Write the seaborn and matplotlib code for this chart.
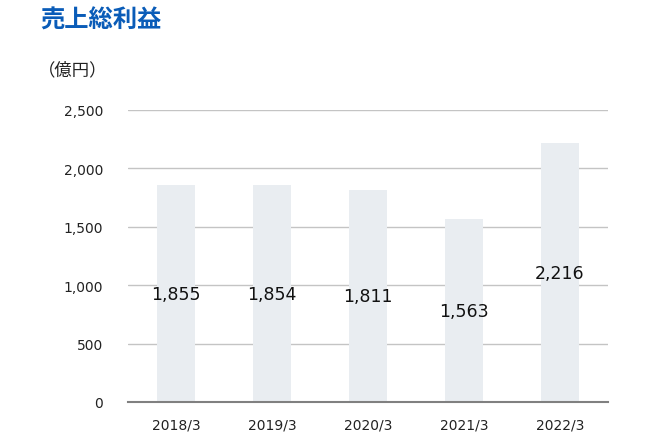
import matplotlib
matplotlib.use('Agg')
import matplotlib.pyplot as plt
import seaborn as sns
import pandas as pd

sns.set_style('white')
plt.rcParams['font.family'] = ['DejaVu Sans', 'Noto Sans CJK JP']

# データ
years = ['2018/3', '2019/3', '2020/3', '2021/3', '2022/3']
gross_profit = [1855, 1854, 1811, 1563, 2216]
y_ticks = [0, 500, 1000, 1500, 2000, 2500]
df = pd.DataFrame({'year': years, 'value': gross_profit})

fig = plt.figure(figsize=(6.58, 4.39), dpi=100)
ax = fig.add_axes([128 / 658, 1 - 403 / 439, 480 / 658, 292 / 439])

ax.set_axisbelow(True)
ax.yaxis.grid(True, color='#c4c4c4', linewidth=1)
sns.barplot(data=df, x='year', y='value', color='#e9edf1', width=0.4,
            saturation=1, linewidth=0, edgecolor='none', ax=ax, zorder=2)

for i, v in enumerate(gross_profit):
    ax.text(i, v / 2, f'{v:,}', ha='center', va='center', fontsize=12.5,
            color='#111111', zorder=3)

ax.set_ylim(0, 2500)
ax.set_xlim(-0.5, 4.5)
ax.set_yticks(y_ticks)
ax.set_yticklabels([f'{t:,}' for t in y_ticks])
ax.set_xlabel('')
ax.set_ylabel('')
for s in ['top', 'right', 'left']:
    ax.spines[s].set_visible(False)
ax.spines['bottom'].set_color('#808080')
ax.spines['bottom'].set_linewidth(1.5)
ax.tick_params(axis='both', length=0, labelsize=10, colors='#222222')
ax.tick_params(axis='y', pad=18)
ax.tick_params(axis='x', pad=11)

fig.text(40 / 658, 1 - 21 / 439, '売上総利益', fontsize=17.5, fontweight='bold',
         color='#0a5cb8', va='center', ha='left', family=['Noto Sans CJK JP'])
fig.text(38 / 658, 1 - 70 / 439, '（億円）', fontsize=12.5, color='#222222',
         va='center', ha='left', family=['Noto Sans CJK JP'])

fig.savefig('out.png', dpi=100)
